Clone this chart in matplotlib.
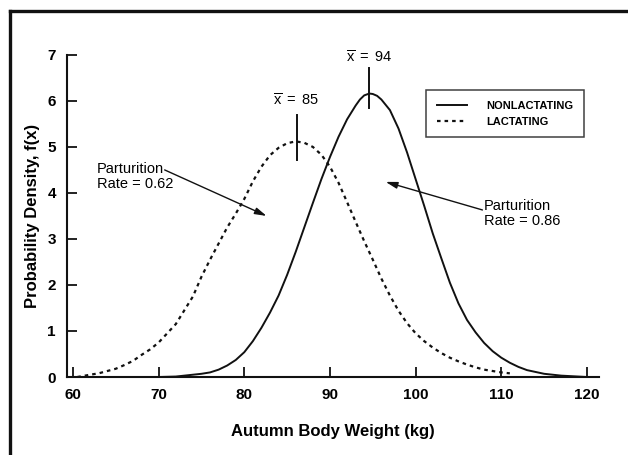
import matplotlib
matplotlib.use("Agg")
import matplotlib.pyplot as plt
from matplotlib.lines import Line2D

plt.rcParams["font.family"] = ["Liberation Sans", "DejaVu Sans"]
plt.rcParams["mathtext.fontset"] = "custom"
plt.rcParams["mathtext.rm"] = "Liberation Sans"
plt.rcParams["mathtext.sf"] = "Liberation Sans"
plt.rcParams["mathtext.it"] = "Liberation Sans"

# --- data ----------------------------------------------------------------
lact_x = [60.5, 62, 63, 64, 65, 66, 67, 68, 69, 70, 71, 72, 73, 74, 75, 76,
          77, 78, 79, 80, 81, 82, 83, 84, 85, 86, 87, 88, 89, 90, 91, 92,
          93, 94, 95, 96, 97, 98, 99, 100, 101, 102, 103, 104, 105, 106,
          107, 108, 109, 110, 111]
lact_y = [0.0, 0.05, 0.08, 0.13, 0.18, 0.26, 0.35, 0.48, 0.60, 0.75, 0.95,
          1.15, 1.45, 1.75, 2.18, 2.55, 2.90, 3.25, 3.55, 3.87, 4.25, 4.57,
          4.82, 4.98, 5.08, 5.12, 5.09, 5.00, 4.83, 4.57, 4.22, 3.80, 3.37,
          2.95, 2.55, 2.14, 1.77, 1.44, 1.17, 0.95, 0.78, 0.64, 0.52, 0.42,
          0.34, 0.27, 0.21, 0.16, 0.13, 0.10, 0.08]

nonl_x = [70, 72, 73, 74, 75, 76, 77, 78, 79, 80, 81, 82, 83, 84, 85, 86,
          87, 88, 89, 90, 91, 92, 93, 93.5, 94, 94.6, 95, 95.5, 96, 97, 98,
          99, 100, 101, 102, 103, 104, 105, 106, 107, 108, 109, 110, 111,
          112, 113, 114, 115, 116, 117, 118, 119, 120]
nonl_y = [0.0, 0.01, 0.03, 0.05, 0.07, 0.10, 0.16, 0.25, 0.37, 0.54, 0.78,
          1.07, 1.40, 1.77, 2.22, 2.72, 3.25, 3.78, 4.30, 4.78, 5.22, 5.60,
          5.90, 6.03, 6.12, 6.16, 6.15, 6.11, 6.03, 5.80, 5.40, 4.88, 4.30,
          3.72, 3.12, 2.58, 2.05, 1.60, 1.24, 0.97, 0.74, 0.56, 0.42, 0.31,
          0.22, 0.15, 0.11, 0.07, 0.05, 0.03, 0.02, 0.01, 0.0]

x_ticks = [60, 70, 80, 90, 100, 110, 120]
y_ticks = [0, 1, 2, 3, 4, 5, 6, 7]
mean_lact = 86.1
mean_nonl = 94.6

fig = plt.figure(figsize=(6.28, 4.55), dpi=100)
ax = fig.add_axes([0.1067, 0.1714, 0.847, 0.708])

ax.plot(nonl_x, nonl_y, color="#111111", lw=1.4, label="NONLACTATING")
ax.plot(lact_x, lact_y, color="#111111", lw=1.6, ls=(0, (1.6, 1.8)),
        label="LACTATING")

ax.set_xlim(59.3, 121.4)
ax.set_ylim(0, 7)
ax.set_xticks(x_ticks)
ax.set_yticks(y_ticks)
for s in ("top", "right"):
    ax.spines[s].set_visible(False)
for s in ("left", "bottom"):
    ax.spines[s].set_linewidth(1.5)
    ax.spines[s].set_color("#111111")
ax.tick_params(direction="in", length=7, width=1.3, pad=8, labelsize=11,
               color="#111111")
for lab in ax.get_xticklabels() + ax.get_yticklabels():
    lab.set_fontweight("bold")

ax.set_xlabel("Autumn Body Weight (kg)", fontsize=12, fontweight="bold",
              labelpad=16)
ax.set_ylabel("Probability Density, f(x)", fontsize=12, fontweight="bold",
              labelpad=5)

# mean markers
ax.plot([mean_lact, mean_lact], [4.72, 5.70], color="#111111", lw=1.4,
        clip_on=False)
ax.plot([mean_nonl, mean_nonl], [5.85, 6.72], color="#111111", lw=1.4,
        clip_on=False)
ax.text(mean_lact, 6.0, r"$\overline{\mathrm{x}}\ =\ 85$", fontsize=10.5,
        ha="center", va="center")
ax.text(mean_nonl, 6.95, r"$\overline{\mathrm{x}}\ =\ 94$", fontsize=10.5,
        ha="center", va="center", clip_on=False)

# parturition notes
ax.text(62.8, 4.36, "Parturition\nRate = 0.62", fontsize=10.5, ha="left",
        va="center", linespacing=1.1)
ax.annotate("", xy=(82.6, 3.5), xytext=(70.7, 4.5),
            arrowprops=dict(arrowstyle="-|>,head_length=0.7,head_width=0.2",
                            color="#111111", lw=1.0, shrinkA=0, shrinkB=0))
ax.text(108.0, 3.55, "Parturition\nRate = 0.86", fontsize=10.5, ha="left",
        va="center", linespacing=1.1)
ax.annotate("", xy=(96.5, 4.24), xytext=(107.8, 3.63),
            arrowprops=dict(arrowstyle="-|>,head_length=0.7,head_width=0.2",
                            color="#111111", lw=1.0, shrinkA=0, shrinkB=0))

leg = ax.legend(loc="upper left", bbox_to_anchor=(0.675, 0.891),
                borderaxespad=0, fancybox=False, frameon=True,
                prop=dict(size=8, weight="bold"), handlelength=2.7,
                handletextpad=1.8, borderpad=0.95, labelspacing=0.55)
leg.get_frame().set_edgecolor("#111111")
leg.get_frame().set_linewidth(1.1)

# outer frame (cropped box, top and left edges visible)
fig.add_artist(Line2D([10 / 628, 1.0], [1 - 11 / 455, 1 - 11 / 455],
                      color="#111111", lw=2.4, transform=fig.transFigure))
fig.add_artist(Line2D([10 / 628, 10 / 628], [0.0, 1 - 11 / 455],
                      color="#111111", lw=2.4, transform=fig.transFigure))

fig.savefig("out.png", dpi=100)
